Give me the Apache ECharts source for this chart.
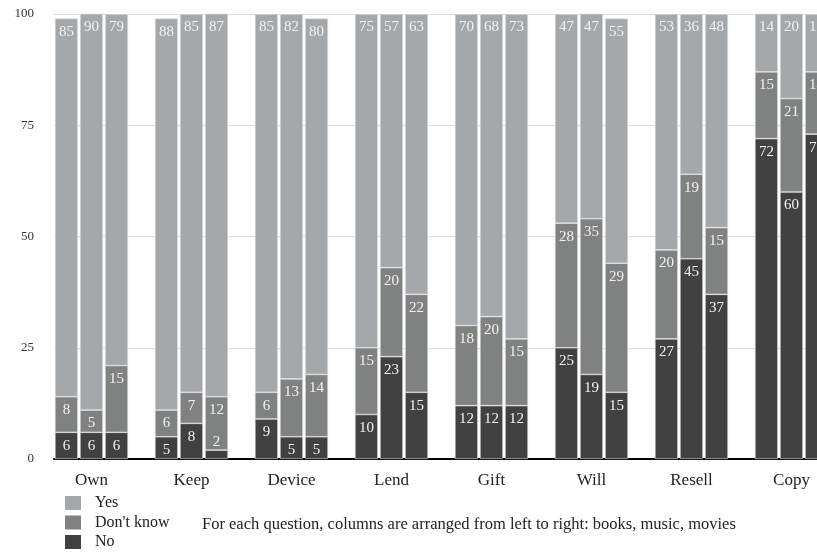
<!DOCTYPE html>
<html>
<head>
<meta charset="utf-8">
<script src="https://cdn.jsdelivr.net/npm/echarts@6/dist/echarts.min.js"></script>
<style>html,body{margin:0;padding:0;background:#fff}#c{width:817px;height:552px}</style>
</head>
<body>
<div id="c"></div>
<script>
var categories = ['Own','Keep','Device','Lend','Gift','Will','Resell','Copy'];
var media = ['books','music','movies'];
var levels = ['No', "Don't know", 'Yes'];
var noBooks = [6,5,9,10,12,25,27,72];
var noMusic = [6,8,5,23,12,19,45,60];
var noMovies = [6,2,5,15,12,15,37,73];
var dkBooks = [8,6,6,15,18,28,20,15];
var dkMusic = [5,7,13,20,20,35,19,21];
var dkMovies = [15,12,14,22,15,29,15,14];
var yesBooks = [85,88,85,75,70,47,53,14];
var yesMusic = [90,85,82,57,68,47,36,20];
var yesMovies = [79,87,80,63,73,55,48,13];
var yTicks = [0,25,50,75,100];
var note = 'For each question, columns are arranged from left to right: books, music, movies';

var values = {
  'No': [noBooks, noMusic, noMovies],
  "Don't know": [dkBooks, dkMusic, dkMovies],
  'Yes': [yesBooks, yesMusic, yesMovies]
};
var colors = {'No':'#414141', "Don't know":'#808281', 'Yes':'#a5a8aa'};
var FONT = 'Liberation Serif';

var series = [];
media.forEach(function(m, mi){
  levels.forEach(function(lv){
    series.push({
      type:'bar', name: lv, stack: m, barWidth: 23, barGap: '9%',
      itemStyle:{color: colors[lv], borderColor:'#e4e4e4', borderWidth:0.6},
      label:{show:true, position:'insideTop', distance:6, color:'#f2f2f2', fontFamily:FONT, fontSize:15},
      data: values[lv][mi].map(function(v){
        return v < 4 ? {value:v, label:{position:'top', distance:1}} : v;
      })
    });
  });
});
// empty spacer stack so the three columns sit left in each band
series.push({type:'bar', name:'spacer', stack:'spacer', barWidth:23, data: categories.map(function(){return '-';})});

var chart = echarts.init(document.getElementById('c'));
chart.setOption({
  animation:false,
  grid:{left:54, top:14, width:800, height:445, outerBoundsMode:'none', containLabel:false},
  legend:{
    data:['Yes', "Don't know", 'No'], orient:'vertical', left:65, top:495, height:80, padding:0,
    itemWidth:16, itemHeight:14, itemGap:3.5, icon:'rect',
    itemStyle:{borderWidth:0},
    textStyle:{fontFamily:FONT, fontSize:16, lineHeight:15, color:'#222', padding:[0,0,0,9]}
  },
  graphic:[{type:'text', left:202, top:516, style:{text:note, font:'16.5px "Liberation Serif"', fill:'#222'}}],
  xAxis:{
    type:'category', data:categories,
    axisTick:{show:false},
    axisLine:{lineStyle:{color:'#000', width:2}},
    axisLabel:{fontFamily:FONT, fontSize:17, color:'#222', margin:13, padding:[0,25,0,0]}
  },
  yAxis:{
    type:'value', min:yTicks[0], max:yTicks[yTicks.length-1], interval:25,
    axisLine:{show:false}, axisTick:{show:false},
    splitLine:{lineStyle:{color:'#dcdcdc', width:1}},
    axisLabel:{fontFamily:FONT, fontSize:13, color:'#333', margin:20}
  },
  series: series
});
</script>
</body>
</html>
